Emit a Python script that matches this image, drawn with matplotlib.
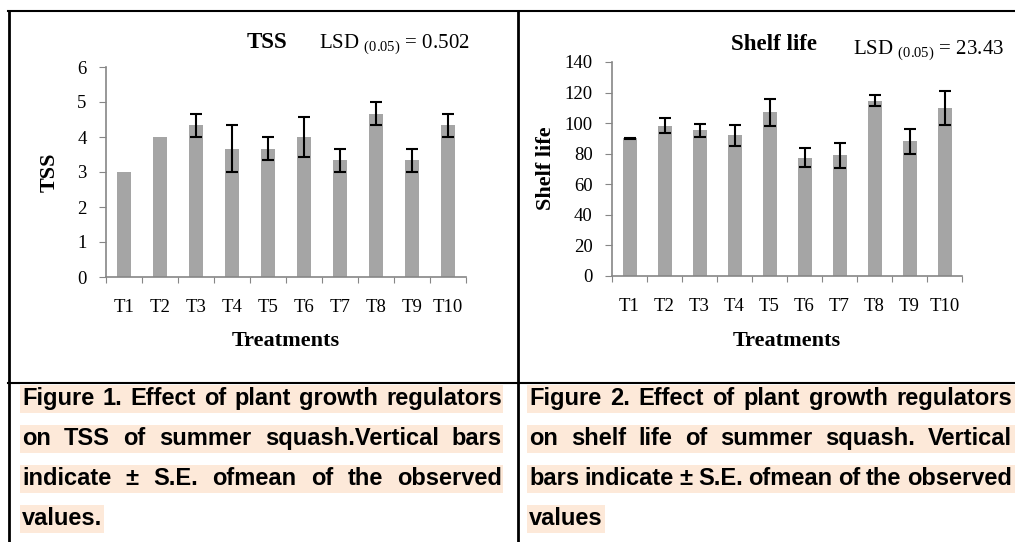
import numpy as np
import matplotlib
matplotlib.use("Agg")
import matplotlib.pyplot as plt
from matplotlib.lines import Line2D
from matplotlib.patches import Rectangle

# values
treatments = ["T1", "T2", "T3", "T4", "T5", "T6", "T7", "T8", "T9", "T10"]
tss_mean = [3.0, 4.0, 4.33, 3.67, 3.67, 4.0, 3.33, 4.67, 3.33, 4.33]
tss_se = [0, 0, 0.33, 0.67, 0.33, 0.58, 0.33, 0.33, 0.33, 0.33]
shelf_mean = [90.0, 98.3, 95.3, 92.0, 107.0, 77.3, 79.0, 114.7, 88.0, 110.0]
shelf_se = [0.3, 4.8, 4.3, 6.8, 8.8, 6.3, 8.2, 3.6, 8.4, 11.3]

caption1 = ["Figure 1. Effect of plant growth regulators",
            "on TSS of summer squash.Vertical bars",
            "indicate \u00b1 S.E. ofmean of the observed",
            "values."]
caption2 = ["Figure 2. Effect of plant growth regulators",
            "on shelf life of summer squash. Vertical",
            "bars indicate \u00b1 S.E. ofmean of the observed",
            "values"]

W, H = 1015, 542
plt.rcParams["mathtext.fontset"] = "custom"
plt.rcParams["mathtext.rm"] = "Liberation Serif"
fig = plt.figure(figsize=(W / 100, H / 100), dpi=100)

def fx(x):
    return x / W

def fy(y):
    return 1 - y / H

serif = "Liberation Serif"
spine_col = "#868686"


def bar_panel(rect, means, errs, ymax, ystep):
    ax = fig.add_axes(rect)
    x = np.arange(len(treatments))
    ax.bar(x, means, width=0.4, color="#A5A5A5", zorder=2)
    errs = np.array(errs)
    keep = errs > 0
    ax.errorbar(x[keep], np.array(means)[keep], yerr=errs[keep], fmt="none",
                ecolor="black", elinewidth=1.5, capsize=4, capthick=1.5, zorder=3)
    ax.set_xlim(-0.5, len(treatments) - 0.5)
    ax.set_ylim(0, ymax)
    ax.set_yticks(np.arange(0, ymax + 1, ystep))
    ax.set_xticks(np.arange(-0.5, len(treatments), 1))
    ax.set_xticklabels([])
    ax.set_xticks(x, minor=True)
    ax.set_xticklabels(treatments, minor=True)
    ax.tick_params(axis="x", which="major", length=4, color=spine_col, direction="out")
    ax.tick_params(axis="x", which="minor", length=0, pad=16, labelsize=13.5)
    ax.tick_params(axis="y", length=5, color=spine_col, pad=9, labelsize=13.5)
    for lab in ax.get_xticklabels(minor=True) + ax.get_yticklabels():
        lab.set_fontfamily(serif)
    for s in ["top", "right"]:
        ax.spines[s].set_visible(False)
    for s in ["left", "bottom"]:
        ax.spines[s].set_color(spine_col)
        ax.spines[s].set_linewidth(1.2)
    return ax


ax1 = bar_panel([fx(106), fy(277), 360 / W, 210 / H], tss_mean, tss_se, 6, 1)
ax2 = bar_panel([fx(612), fy(276), 350 / W, 214 / H], shelf_mean, shelf_se, 140, 20)

# titles, LSD notes and axis labels
fig.text(fx(267), fy(48), "TSS", ha="center", va="baseline", fontsize=16.5,
         fontweight="bold", family=serif)
fig.text(fx(319), fy(48), r"LSD $_{\mathregular{(0.05)}}$ = 0.502", ha="left",
         va="baseline", fontsize=15, family=serif)
fig.text(fx(774), fy(50), "Shelf life", ha="center", va="baseline", fontsize=16.5,
         fontweight="bold", family=serif)
fig.text(fx(853), fy(54), r"LSD $_{\mathregular{(0.05)}}$ = 23.43", ha="left",
         va="baseline", fontsize=15, family=serif)

fig.text(fx(50), fy(172), "TSS", rotation=90, ha="center", va="center",
         fontsize=16, fontweight="bold", family=serif)
fig.text(fx(546), fy(168), "Shelf life", rotation=90, ha="center", va="center",
         fontsize=16, fontweight="bold", family=serif)
fig.text(fx(286), fy(341), "Treatments", ha="center", va="center",
         fontsize=16, fontweight="bold", family=serif)
fig.text(fx(787), fy(341), "Treatments", ha="center", va="center",
         fontsize=16, fontweight="bold", family=serif)

# table borders
for xs, ys, lw in [([8, W], [11, 11], 1.5), ([8, W], [383, 383], 1.5),
                   ([9, 9], [11, H], 2), ([518, 518], [11, H], 2)]:
    fig.add_artist(Line2D([fx(v) for v in xs], [fy(v) for v in ys],
                          transform=fig.transFigure, color="black", lw=lw))

# justified captions with highlight
renderer = fig.canvas.get_renderer()
cap_font = dict(family="Liberation Sans", fontweight="bold", fontsize=17)
probe = fig.text(0, 0, "a a", **cap_font)
probe2 = fig.text(0, 0, "aa", **cap_font)
space_w = probe.get_window_extent(renderer).width - probe2.get_window_extent(renderer).width
probe.remove()
probe2.remove()


def caption(lines, x0, x1, hl_right):
    for i, line in enumerate(lines):
        yc = 399 + 40 * i
        words = line.split(" ")
        texts = [fig.text(0, 0, w, ha="left", va="baseline", zorder=3, **cap_font)
                 for w in words]
        widths = [t.get_window_extent(renderer).width for t in texts]
        last = i == len(lines) - 1
        if last or len(words) == 1:
            gap = space_w
        else:
            gap = (x1 - x0 - sum(widths)) / (len(words) - 1)
        x = x0
        for t, w in zip(texts, widths):
            t.set_position((fx(x), fy(yc + 6)))
            x += w + gap
        right = x - gap + 2 if last else hl_right
        fig.add_artist(Rectangle((fx(x0 - 2), fy(yc + 14)), (right - x0 + 2) / W, 28 / H,
                                 transform=fig.transFigure, color="#FDE9D9",
                                 lw=0, zorder=1))


caption(caption1, 22, 502, 503)
caption(caption2, 529, 1012, W)

fig.savefig("out.png", dpi=100)
